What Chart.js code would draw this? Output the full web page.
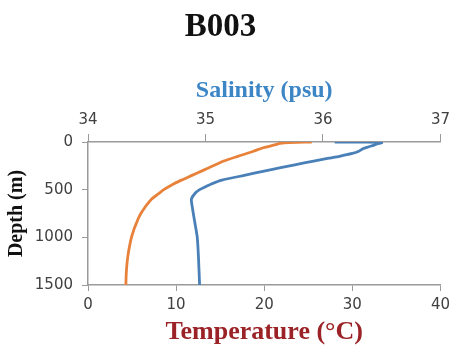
<!DOCTYPE html>
<html>
<head>
<meta charset="utf-8">
<script src="https://cdn.jsdelivr.net/npm/chart.js@4"></script>
<style>
  body { margin: 0; background: #fff; }
  #wrap { width: 455px; height: 360px; }
</style>
</head>
<body>
<div id="wrap"><canvas id="graph" width="455" height="360"></canvas></div>
<script>
// temperature profile (°C) vs depth (m)
const tempDepth = [0, 3, 8, 15, 30, 60, 100, 150, 200, 250, 300, 350, 400, 450, 500, 550, 600, 650, 700, 750, 800, 850, 900, 950, 1000, 1100, 1200, 1300, 1400, 1500];
const tempValues = [25.4, 23.8, 22.3, 21.8, 21.2, 19.9, 18.7, 17.0, 15.4, 14.2, 13.0, 11.8, 10.6, 9.5, 8.6, 7.9, 7.2, 6.75, 6.35, 6.0, 5.72, 5.5, 5.28, 5.1, 4.93, 4.7, 4.52, 4.4, 4.33, 4.3];

// salinity profile (psu) vs depth (m)
const salDepth = [0, 1, 2, 5, 10, 20, 35, 50, 70, 100, 120, 150, 170, 200, 240, 300, 350, 400, 440, 470, 500, 540, 600, 700, 850, 1000, 1200, 1500];
const salValues = [36.1, 36.25, 36.38, 36.47, 36.5, 36.46, 36.43, 36.39, 36.34, 36.3, 36.25, 36.14, 36.05, 35.92, 35.76, 35.52, 35.33, 35.14, 35.05, 35.0, 34.95, 34.91, 34.88, 34.89, 34.91, 34.93, 34.94, 34.95];

const axisColor = "#9a9a9a";
const tickFont = { family: "DejaVu Sans", size: 15 };
const serifBold = (size) => ({ family: "Liberation Serif", size: size, weight: "bold" });
const plainLabel = (value) => String(value);

const tempData = tempDepth.map((d, i) => ({ x: tempValues[i], y: d }));
const salData = salDepth.map((d, i) => ({ x: salValues[i], y: d }));

new Chart(document.getElementById("graph").getContext("2d"), {
  type: "scatter",
  data: {
    datasets: [
      {
        label: "Temperature",
        data: tempData,
        xAxisID: "x",
        showLine: true,
        borderColor: "#e8823a",
        borderWidth: 2.8,
        pointRadius: 0,
        tension: 0.25,
      },
      {
        label: "Salinity",
        data: salData,
        xAxisID: "x2",
        showLine: true,
        borderColor: "#4a80b8",
        borderWidth: 2.8,
        pointRadius: 0,
        tension: 0.2,
      },
    ],
  },
  options: {
    responsive: false,
    animation: false,
    layout: { padding: { left: 0, right: 14, top: 0, bottom: 0 } },
    plugins: {
      legend: { display: false },
      tooltip: { enabled: false },
      title: {
        display: true,
        text: "B003",
        color: "#111",
        font: serifBold(33),
        padding: { top: 8, bottom: 4 },
      },
    },
    scales: {
      x: {
        type: "linear",
        position: "bottom",
        min: 0,
        max: 40,
        ticks: { stepSize: 10, color: "#404040", font: tickFont, padding: 5, callback: plainLabel },
        grid: { drawOnChartArea: false, drawTicks: true, tickLength: 6, color: axisColor },
        border: { color: axisColor, width: 1.5 },
        title: {
          display: true,
          text: "Temperature (°C)",
          color: "#9b2226",
          font: serifBold(26),
          padding: { top: 0, bottom: 12 },
        },
        afterFit: (scale) => { scale.height = 75; },
      },
      x2: {
        type: "linear",
        position: "top",
        min: 34,
        max: 37,
        ticks: { stepSize: 1, color: "#404040", font: tickFont, padding: 5, callback: plainLabel },
        grid: { drawOnChartArea: false, drawTicks: true, tickLength: 8, color: axisColor },
        border: { color: axisColor, width: 1.5 },
        title: {
          display: true,
          text: "Salinity (psu)",
          color: "#3d86c6",
          font: serifBold(24),
          padding: { top: 25, bottom: 0 },
        },
        afterFit: (scale) => { scale.height = 90.4; },
      },
      y: {
        type: "linear",
        reverse: true,
        min: 0,
        max: 1500,
        ticks: { stepSize: 500, color: "#404040", font: tickFont, padding: 9, callback: plainLabel },
        grid: { drawOnChartArea: false, drawTicks: true, tickLength: 6, color: axisColor },
        border: { color: axisColor, width: 1.5 },
        title: {
          display: true,
          text: "Depth (m)",
          color: "#111",
          font: serifBold(20),
          padding: { top: 5, bottom: 0 },
        },
        afterFit: (scale) => { scale.width = 88; },
      },
    },
  },
});
</script>
</body>
</html>
